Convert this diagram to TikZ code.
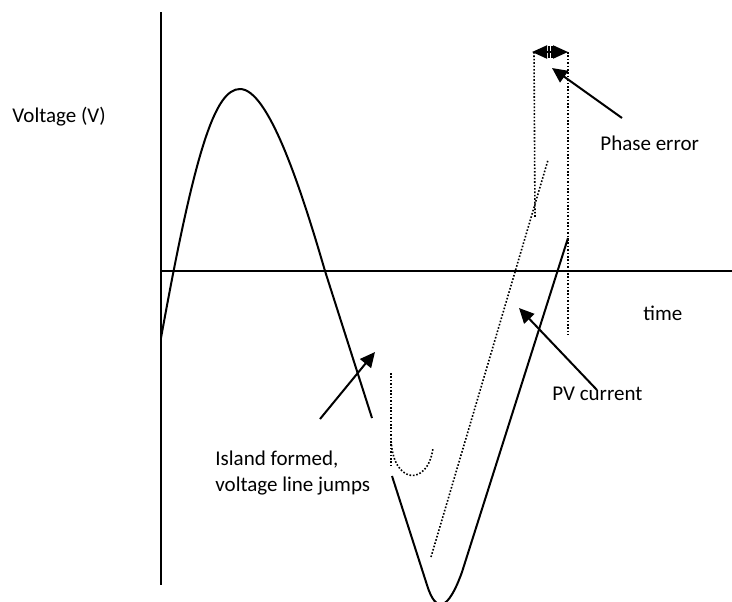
\documentclass[tikz,border=0pt]{standalone}
\usepackage{fontspec}
\setmainfont{Carlito}
\usetikzlibrary{arrows.meta}
\tikzset{
  >=Stealth,
  axis/.style    = {line width=1pt},
  wave/.style    = {line width=1pt, line join=round},
  trace/.style   = {line width=0.8pt, dash pattern=on 0.8pt off 0.9pt},
  pointer/.style = {-{Triangle[length=7.5pt,width=7pt]}, line width=1pt},
  note/.style    = {font=\fontsize{10.5}{13}\selectfont, inner sep=0pt,
                    anchor=west, align=left},
}

\begin{document}
\begin{tikzpicture}[x=0.5pt, y=-0.5pt]
  \useasboundingbox (0,0) rectangle (732,601);

  % axes
  \coordinate (vtop) at (161,12);
  \coordinate (vbot) at (161,585);
  \coordinate (orig) at (161,271);
  \coordinate (hend) at (732,271);
  \draw[axis] (vtop) -- (vbot);
  \draw[axis] (orig) -- (hend);

  % voltage before and after the island forms
  \draw[wave] (161,338) .. controls (195,150) and (215,89) .. (240,89)
              .. controls (268,89) and (300,185) .. (325,271) -- (372,418);
  \draw[wave] (392,476) -- (427,585) .. controls (436,614) and (448,611) .. (462,572)
              -- (568,238);

  % PV current and phase marks
  \draw[trace] (391,373) -- (391,467);
  \draw[trace] (391,438) .. controls (392,485) and (428,487) .. (433,448);
  \draw[trace] (431,557) -- (548,160);
  \draw[trace] (534,52) -- (535,218);
  \draw[trace] (568,52) -- (568,335);

  % phase error span
  \coordinate (pel) at (532,52);
  \coordinate (per) at (568,52);
  \draw[{Triangle[length=7.5pt,width=6.5pt]}-{Triangle[length=7.5pt,width=6.5pt]},
        line width=1pt] (pel) -- (per);
  \draw[line width=1pt] (548.5,46) -- (548.5,58) (551.5,46) -- (551.5,58);

  % labels
  \node[note] (vlab)  at (12,117)  {Voltage (V)};
  \node[note] (tlab)  at (643,313) {time};
  \node[note] (pelab) at (600,143) {Phase error};
  \node[note] (pvlab) at (552,394) {PV current};
  \node[note] (islab) at (215,473) {Island formed,\\voltage line jumps};

  % pointers
  \coordinate (istail) at (320,419);
  \coordinate (istip)  at (375,352);
  \coordinate (pvtail) at (597,390);
  \coordinate (pvtip)  at (519,308);
  \coordinate (petail) at (622,118);
  \coordinate (petip)  at (552,68);
  \foreach \a/\b in {istail/istip, pvtail/pvtip, petail/petip}
    \draw[pointer] (\a) -- (\b);
\end{tikzpicture}
\end{document}
